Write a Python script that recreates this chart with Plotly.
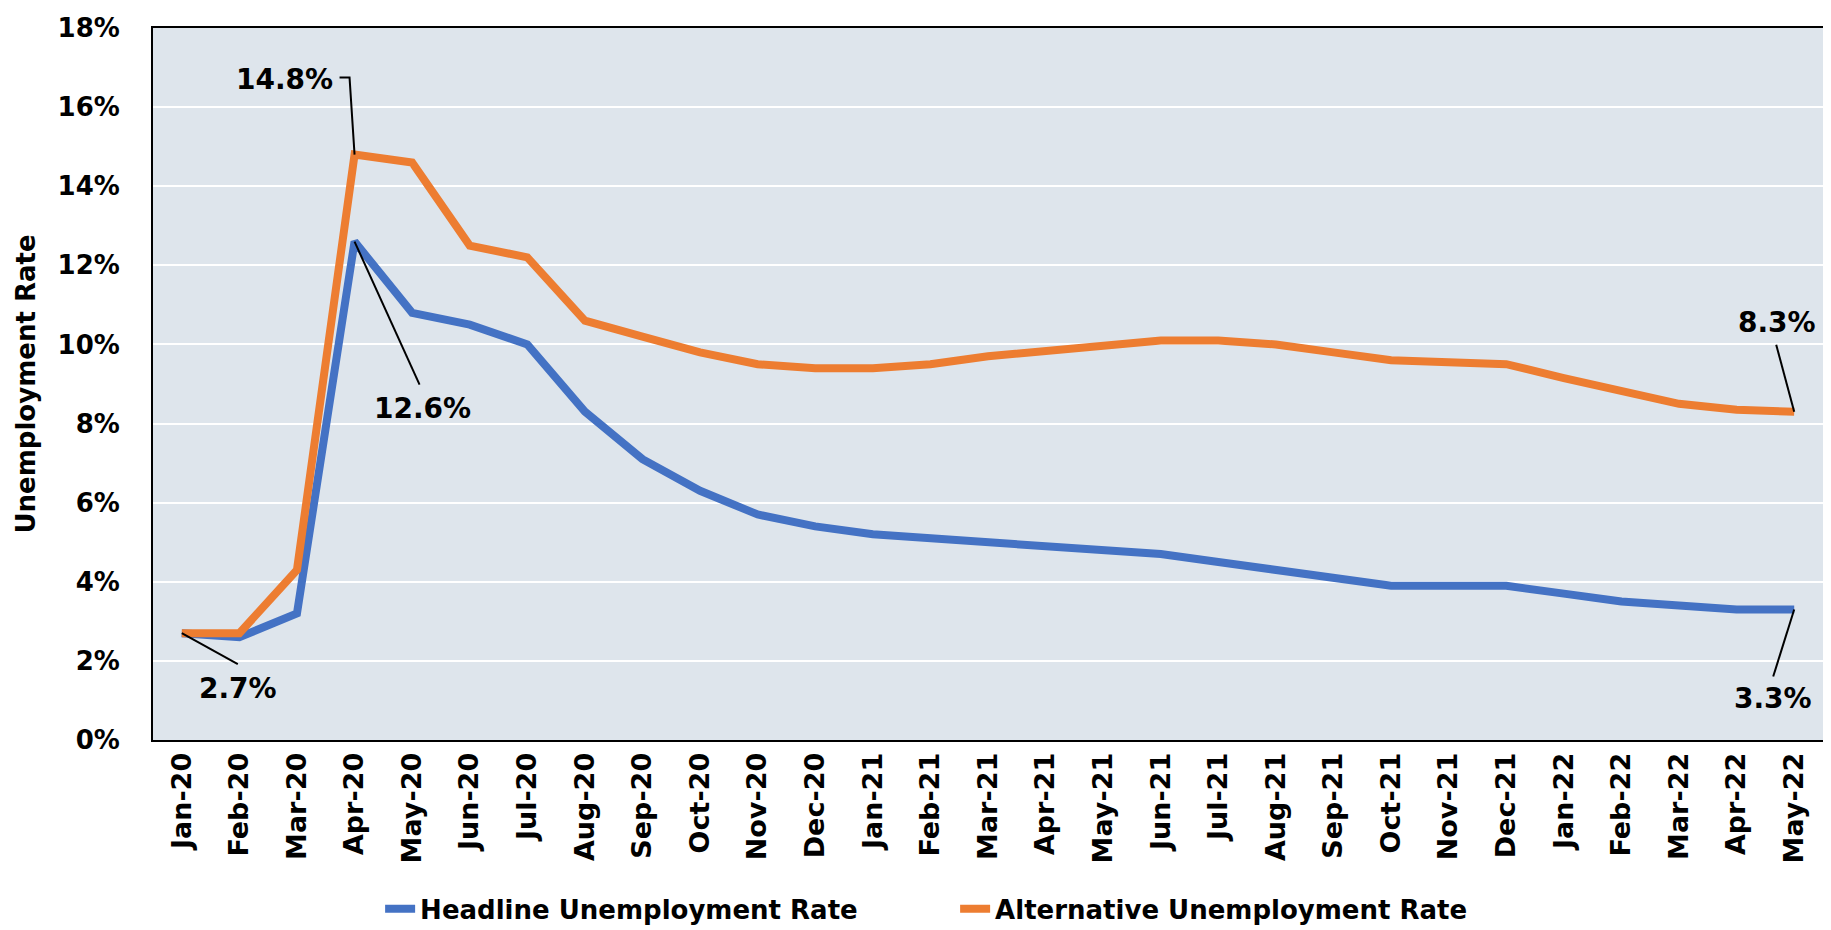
import plotly.graph_objects as go

months = ["Jan-20", "Feb-20", "Mar-20", "Apr-20", "May-20", "Jun-20", "Jul-20", "Aug-20",
          "Sep-20", "Oct-20", "Nov-20", "Dec-20", "Jan-21", "Feb-21", "Mar-21", "Apr-21",
          "May-21", "Jun-21", "Jul-21", "Aug-21", "Sep-21", "Oct-21", "Nov-21", "Dec-21",
          "Jan-22", "Feb-22", "Mar-22", "Apr-22", "May-22"]

headline = [2.7, 2.6, 3.2, 12.6, 10.8, 10.5, 10.0, 8.3, 7.1, 6.3, 5.7, 5.4, 5.2, 5.1, 5.0,
            4.9, 4.8, 4.7, 4.5, 4.3, 4.1, 3.9, 3.9, 3.9, 3.7, 3.5, 3.4, 3.3, 3.3]

alternative = [2.7, 2.7, 4.3, 14.8, 14.6, 12.5, 12.2, 10.6, 10.2, 9.8, 9.5, 9.4, 9.4, 9.5, 9.7,
               9.85, 10.0, 10.1, 10.1, 10.0, 9.8, 9.6, 9.55, 9.5, 9.15, 8.85, 8.5, 8.35, 8.3]

y_ticks = [0, 2, 4, 6, 8, 10, 12, 14, 16, 18]
y_tick_labels = [f"{v}%" for v in y_ticks]

BLUE = "#4472C4"
ORANGE = "#ED7D31"
FONT = "DejaVu Sans"

fig = go.Figure()
fig.add_trace(go.Scatter(x=months, y=headline, mode="lines", name="Headline Unemployment Rate",
                         line=dict(color=BLUE, width=8)))
fig.add_trace(go.Scatter(x=months, y=alternative, mode="lines", name="Alternative Unemployment Rate",
                         line=dict(color=ORANGE, width=8)))

# callouts: (series, index, text xshift, text yshift, leader path in pixels relative to point)
callouts = [
    (alternative, 3, -70, 75, "M0,0 L-5,77 L-15,77"),
    (headline, 3, 68, -167, "M0,0 L65,-143"),
    (headline, 0, 56, -55, "M0,0 L56,-31"),
    (alternative, 28, -17, 89, "M0,0 L-18,67"),
    (headline, 28, -21, -89, "M0,0 L-21,-67"),
]
for series, i, xs, ys, path in callouts:
    fig.add_annotation(x=months[i], y=series[i], text=f"{series[i]:.1f}%", showarrow=False,
                       xshift=xs, yshift=ys, font=dict(family=FONT, size=28, color="black", weight="bold"))
    fig.add_shape(type="path", xref="x", yref="y", xsizemode="pixel", ysizemode="pixel",
                  xanchor=months[i], yanchor=series[i], path=path,
                  line=dict(color="black", width=2))

fig.update_layout(
    width=1831, height=930,
    margin=dict(l=145, r=16, t=20, b=198, autoexpand=False),
    paper_bgcolor="white",
    plot_bgcolor="#DEE5EC",
    font=dict(family=FONT, size=26, color="black", weight="bold"),
    showlegend=True,
    legend=dict(orientation="h", x=0.136, y=-0.237, xanchor="left", yanchor="middle",
                font=dict(family=FONT, size=26, color="black", weight="bold"),
                entrywidth=530, entrywidthmode="pixels", bgcolor="rgba(0,0,0,0)"),
)
fig.update_xaxes(type="category", range=[-0.5, len(months) - 0.5], tickangle=-90,
                 tickfont=dict(family=FONT, size=27, color="black", weight="bold"),
                 showgrid=False, showline=True, linecolor="black", linewidth=2, mirror=True,
                 ticks="", ticklabelstandoff=0, automargin=False)
fig.update_yaxes(range=[0, 18], tickvals=y_ticks, ticktext=y_tick_labels,
                 tickfont=dict(family=FONT, size=26, color="black", weight="bold"),
                 showgrid=True, gridcolor="white", gridwidth=2, zeroline=False,
                 showline=True, linecolor="black", linewidth=2, mirror=True,
                 ticks="", ticklabelstandoff=26, automargin=False,
                 title=dict(text="Unemployment Rate", standoff=14,
                            font=dict(family=FONT, size=26, color="black", weight="bold")))

fig.write_html("out.html")
